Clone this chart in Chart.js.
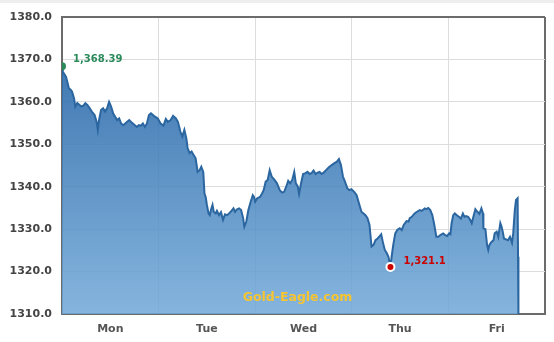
<!DOCTYPE html>
<html>
<head>
<meta charset="utf-8">
<script src="https://cdn.jsdelivr.net/npm/chart.js@4"></script>
<style>
  html, body { margin: 0; padding: 0; background: #fff; }
  #wrap { position: relative; width: 554px; height: 342px; }
  #topband { position: absolute; left: 0; top: 0; width: 554px; height: 3px; background: #eeeeee; }
</style>
</head>
<body>
<div id="wrap">
  <canvas id="myChart" width="554" height="342"></canvas>
  <div id="topband"></div>
</div>
<script>
'use strict';

// week labels, one per trading day
let dayLabels = ['Mon', 'Tue', 'Wed', 'Thu', 'Fri'];

// y axis
let yMin = 1310;
let yMax = 1380;
let yStep = 10;

// time in hours from Monday open
let hours = [
  0, 0.2, 0.5, 1.0, 1.3, 1.7, 2.2, 2.5, 3.0, 3.3, 3.8, 4.3, 4.8, 5.3, 5.8, 6.3, 6.9, 7.4, 8.1, 8.6,
  8.9, 9.2, 9.7, 10.2, 10.7, 11.2, 11.7, 12.2, 12.7, 13.2, 13.7, 14.2, 14.7, 15.2, 15.7, 16.2, 16.7, 17.1, 17.6, 18.1,
  18.6, 19.1, 19.6, 20.1, 20.6, 21.1, 21.6, 22.1, 22.6, 23.1,
  23.8, 24.5, 25.2, 25.8, 26.3, 27.0, 27.6, 28.3, 28.8, 29.4, 29.9, 30.4, 30.9, 31.2, 31.7, 32.2, 32.7, 33.2, 33.7, 34.2,
  34.6, 35.1, 35.4, 35.7, 36.0, 36.4, 36.7, 37.0, 37.4, 37.7, 38.2, 38.5, 39.0, 39.5, 40.0, 40.5, 41.0, 41.5, 42.1, 42.6,
  43.0, 43.5, 44.0, 44.5, 45.0, 45.3, 45.8, 46.3, 46.9, 47.4,
  47.7, 48.0, 48.5, 49.2, 49.7, 50.1, 50.6, 51.1, 51.6, 52.1, 52.8, 53.4, 54.1, 54.7, 55.2, 55.7, 56.2, 56.7, 57.2, 57.7,
  58.1, 58.6, 58.9, 59.4, 59.9, 60.5, 61.0, 61.5, 62.0, 62.5, 63.0, 63.5, 64.0, 64.5, 65.0, 65.6, 66.3, 67.0, 67.6, 68.3,
  68.8, 69.3, 69.8, 70.3, 70.9, 71.4, 71.9, 72.6,
  73.2, 73.9, 74.4, 74.9, 75.4, 75.9, 76.4, 76.9, 77.4, 77.9, 78.4, 78.8, 79.3, 79.7, 80.2, 80.7, 81.1, 81.6, 81.9, 82.3,
  82.8, 83.3, 83.9, 84.4, 84.9, 85.6, 86.1, 86.4, 86.9, 87.6, 88.2, 88.9, 89.4, 90.1, 90.5, 91.0, 91.5, 92.0, 92.5, 93.0,
  93.5, 94.0, 94.7, 95.2, 95.7, 96.2,
  96.5, 96.8, 97.2, 97.6, 98.1, 98.6, 99.1, 99.6, 100.0, 100.4, 100.9, 101.4, 101.8, 102.3, 102.7, 103.2, 103.7, 104.2, 104.6, 104.7,
  105.2, 105.6, 105.9, 106.2, 106.7, 107.2, 107.5, 108.0, 108.4, 108.9, 109.2, 109.5, 109.8, 110.3, 110.8, 111.3, 111.8, 112.1, 112.5, 112.8,
  113.2, 113.3, 113.4
];

// gold price
let prices = [
  1368.39, 1367.1, 1366.7, 1365.9, 1364.8, 1363.2, 1362.8, 1362.4, 1360.8, 1358.9, 1359.7, 1359.3, 1358.9, 1359.1, 1359.7, 1359.3, 1358.5, 1357.7, 1356.9, 1355.3,
  1353.4, 1355.7, 1358.1, 1358.5, 1357.7, 1358.5, 1360.0, 1358.9, 1357.3, 1356.5, 1355.7, 1356.1, 1354.9, 1354.5, 1354.9, 1355.3, 1355.7, 1355.3, 1354.9, 1354.5,
  1354.1, 1354.5, 1354.4, 1354.9, 1354.1, 1354.9, 1356.9, 1357.3, 1356.9, 1356.5,
  1356.1, 1354.9, 1354.4, 1356.0, 1355.3, 1355.7, 1356.7, 1356.1, 1355.3, 1353.0, 1351.8, 1353.4, 1351.4, 1349.1, 1347.9, 1348.3, 1347.5, 1346.7, 1343.5, 1343.9,
  1344.7, 1343.5, 1338.4, 1337.6, 1335.7, 1333.7, 1333.3, 1334.5, 1335.7, 1334.1, 1333.7, 1334.3, 1333.3, 1334.0, 1332.2, 1333.5, 1333.3, 1333.7, 1334.3, 1334.9,
  1334.1, 1334.7, 1334.9, 1334.5, 1332.6, 1330.6, 1331.8, 1334.5, 1336.5, 1338.0,
  1337.6, 1336.5, 1337.3, 1337.6, 1338.4, 1339.2, 1341.2, 1341.6, 1343.9, 1342.4, 1341.6, 1340.8, 1339.2, 1338.6, 1338.8, 1340.0, 1341.4, 1340.8, 1341.6, 1343.5,
  1340.8, 1340.0, 1338.3, 1340.8, 1343.0, 1343.2, 1343.5, 1343.0, 1343.2, 1343.8, 1343.0, 1343.3, 1343.5, 1343.0, 1343.3, 1343.9, 1344.6, 1345.1, 1345.5, 1345.9,
  1346.5, 1345.1, 1342.4, 1341.2, 1339.6, 1339.2, 1339.4, 1338.8,
  1338.0, 1335.7, 1334.1, 1333.7, 1333.3, 1332.6, 1331.0, 1325.9, 1326.3, 1327.4, 1327.8, 1328.2, 1328.8, 1327.0, 1325.1, 1324.3, 1323.5, 1321.1, 1323.5, 1326.3,
  1329.0, 1329.8, 1330.2, 1329.8, 1331.0, 1331.9, 1331.8, 1332.6, 1332.9, 1333.7, 1334.1, 1334.5, 1334.3, 1334.9, 1334.7, 1335.0, 1334.5, 1333.3, 1331.0, 1328.2,
  1328.2, 1328.6, 1329.0, 1328.6, 1328.4, 1329.0,
  1328.8, 1331.4, 1333.3, 1333.7, 1333.3, 1332.9, 1332.5, 1333.7, 1332.9, 1333.1, 1332.9, 1332.2, 1331.4, 1333.3, 1334.7, 1334.1, 1333.6, 1334.9, 1333.7, 1330.2,
  1330.0, 1326.3, 1325.1, 1326.3, 1327.0, 1327.4, 1329.0, 1329.4, 1328.2, 1331.4, 1330.6, 1329.4, 1327.8, 1327.6, 1327.4, 1328.2, 1326.8, 1329.0, 1334.5, 1336.9,
  1337.3, 1323.5, 1310
];

// marked points
let openPrice = 1368.39;
let lowPrice = 1321.1;
let openIndex = prices.indexOf(openPrice);
let lowIndex = prices.indexOf(lowPrice);

let points = [];
for (let i = 0; i < hours.length; i++) {
  points.push({ x: hours[i], y: prices[i] });
}

function fmt(n) {
  return n.toLocaleString('en-US', { maximumFractionDigits: 2 });
}

function fillGradient(context) {
  const area = context.chart.chartArea;
  if (!area) {
    return 'rgba(60,120,180,0.85)';
  }
  const g = context.chart.ctx.createLinearGradient(0, area.top, 0, area.bottom);
  g.addColorStop(0, 'rgba(28,92,160,0.9)');
  g.addColorStop(1, 'rgba(112,168,216,0.85)');
  return g;
}

// labels next to the two marked points + watermark
const markerLabels = {
  id: 'markerLabels',
  afterDatasetsDraw(chart) {
    const ctx = chart.ctx;
    const meta = chart.getDatasetMeta(0);
    const area = chart.chartArea;
    ctx.save();
    ctx.font = 'bold 10px "DejaVu Sans", Verdana, sans-serif';
    ctx.textBaseline = 'middle';
    ctx.textAlign = 'left';

    let p = meta.data[openIndex];
    ctx.fillStyle = '#2a8a5a';
    ctx.fillText(fmt(openPrice), p.x + 11, p.y - 7);

    p = meta.data[lowIndex];
    ctx.fillStyle = '#cc0000';
    ctx.fillText(fmt(lowPrice), p.x + 13, p.y - 5);

    ctx.font = 'bold 12.5px "DejaVu Sans", Verdana, sans-serif';
    ctx.textAlign = 'center';
    ctx.fillStyle = '#f7c531';
    ctx.fillText('Gold-Eagle.com', (area.left + area.right) / 2 - 6, area.bottom - 16);
    ctx.restore();
  }
};

const ctx = document.getElementById('myChart');
const myChart = new Chart(ctx, {
  type: 'line',
  data: {
    datasets: [{
      data: points,
      borderColor: '#2b66a0',
      borderWidth: 2,
      backgroundColor: fillGradient,
      fill: 'start',
      tension: 0,
      pointRadius: (c) => (c.dataIndex === openIndex || c.dataIndex === lowIndex) ? 4 : 0,
      pointBackgroundColor: (c) => c.dataIndex === openIndex ? '#2a8a5a' : '#cc0000',
      pointBorderColor: (c) => c.dataIndex === openIndex ? '#2a8a5a' : '#ffffff',
      pointBorderWidth: (c) => c.dataIndex === openIndex ? 0 : 2
    }]
  },
  options: {
    responsive: false,
    animation: false,
    layout: { padding: { top: 17, right: 6, left: 0, bottom: 0 } },
    plugins: {
      legend: { display: false },
      tooltip: { enabled: false }
    },
    scales: {
      x: {
        type: 'linear',
        min: 0,
        max: 120,
        afterFit: (scale) => { scale.height = 28; },
        border: { display: true, color: '#6b6b6b', width: 2 },
        grid: {
          drawTicks: false,
          color: (c) => c.tick.value === 120 ? '#6b6b6b' : (c.tick.value % 24 === 0 ? '#dcdcdc' : 'rgba(0,0,0,0)'),
          lineWidth: (c) => c.tick.value === 120 ? 2 : 1
        },
        ticks: {
          stepSize: 12,
          autoSkip: false,
          maxRotation: 0,
          padding: 9,
          color: '#555',
          font: { family: '"DejaVu Sans", Verdana, sans-serif', size: 11, weight: 'bold' },
          callback: (v) => v % 24 === 12 ? dayLabels[(v - 12) / 24] : ''
        }
      },
      y: {
        min: yMin,
        max: yMax,
        afterFit: (scale) => { scale.width = 62; },
        border: { display: true, color: '#6b6b6b', width: 2 },
        grid: {
          drawTicks: false,
          color: (c) => c.tick.value === yMax ? '#6b6b6b' : '#dcdcdc',
          lineWidth: (c) => c.tick.value === yMax ? 2 : 1
        },
        ticks: {
          stepSize: yStep,
          padding: 10,
          color: '#444',
          font: { family: '"DejaVu Sans", Verdana, sans-serif', size: 11, weight: 'bold' },
          callback: (v) => v.toFixed(1)
        }
      }
    }
  },
  plugins: [markerLabels]
});
</script>
</body>
</html>
